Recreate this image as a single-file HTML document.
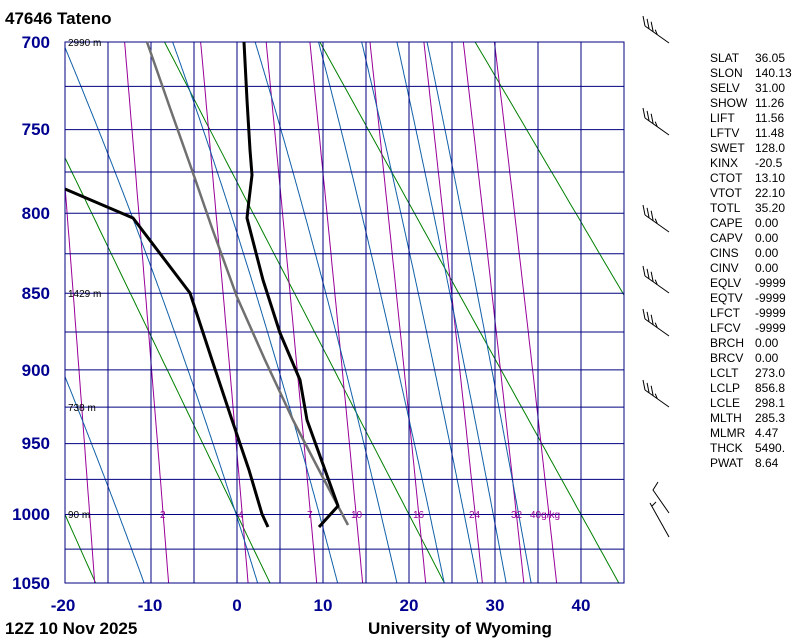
<!DOCTYPE html>
<html><head><meta charset="utf-8"><style>
body{margin:0;background:#fff;}
svg{display:block;font-family:"Liberation Sans",sans-serif;}
</style></head><body>
<svg id="s" width="800" height="640" viewBox="0 0 800 640" xmlns="http://www.w3.org/2000/svg">
<defs><clipPath id="c"><rect x="65" y="42" width="559" height="541"/></clipPath></defs>
<g id="bg" clip-path="url(#c)"></g>
<g id="grid" stroke="#000080" stroke-width="1"></g>
<g font-size="10" fill="#000">
<text x="68" y="46">2990 m</text>
<text x="68" y="297">1429 m</text>
<text x="68" y="411">738 m</text>
<text x="68" y="518">90 m</text>
</g>
<g font-size="10" fill="#990099">
<text x="160" y="518">2</text>
<text x="238" y="518">4</text>
<text x="307" y="518">7</text>
<text x="351" y="518">10</text>
<text x="413" y="518">16</text>
<text x="469" y="518">24</text>
<text x="511" y="518">32</text>
<text x="530" y="518">40g/kg</text>
</g>
<g id="snd" fill="none" stroke-linejoin="round">
<polyline stroke="#707070" stroke-width="2.5" points="147,42 170,108 193,173 212,228 237,297 265,360 293,420 320,472 348,525"/>
<polyline stroke="#000" stroke-width="3" points="244,42 247,100 250,150 252,175 249,200 247,218 263,280 280,333 300,380 307,420 338,506 319,527"/>
<polyline stroke="#000" stroke-width="3" points="65,189 133,218 190,293 212,360 232,420 249,470 262,514 268,527"/>
</g>
<g id="barbs" stroke="#000" stroke-width="1" fill="none"></g>
<g font-size="17" font-weight="bold" fill="#000090" text-anchor="end">
<text x="50" y="48">700</text>
<text x="50" y="135">750</text>
<text x="50" y="219">800</text>
<text x="50" y="299">850</text>
<text x="50" y="376">900</text>
<text x="50" y="449">950</text>
<text x="50" y="520">1000</text>
<text x="50" y="589">1050</text>
</g>
<g font-size="17" font-weight="bold" fill="#000090" text-anchor="middle">
<text x="63" y="611">-20</text>
<text x="150" y="611">-10</text>
<text x="237" y="611">0</text>
<text x="323" y="611">10</text>
<text x="409" y="611">20</text>
<text x="495" y="611">30</text>
<text x="581" y="611">40</text>
</g>
<g font-size="17" font-weight="bold" fill="#000">
<text x="5" y="24">47646  Tateno</text>
<text x="5" y="634">12Z 10 Nov 2025</text>
<text x="368" y="634">University of Wyoming</text>
</g>
<g font-size="12" fill="#000">
<text x="710" y="62">SLAT</text><text x="755" y="62">36.05</text>
<text x="710" y="77">SLON</text><text x="755" y="77">140.13</text>
<text x="710" y="92">SELV</text><text x="755" y="92">31.00</text>
<text x="710" y="107">SHOW</text><text x="755" y="107">11.26</text>
<text x="710" y="122">LIFT</text><text x="755" y="122">11.56</text>
<text x="710" y="137">LFTV</text><text x="755" y="137">11.48</text>
<text x="710" y="152">SWET</text><text x="755" y="152">128.0</text>
<text x="710" y="167">KINX</text><text x="755" y="167">-20.5</text>
<text x="710" y="182">CTOT</text><text x="755" y="182">13.10</text>
<text x="710" y="197">VTOT</text><text x="755" y="197">22.10</text>
<text x="710" y="212">TOTL</text><text x="755" y="212">35.20</text>
<text x="710" y="227">CAPE</text><text x="755" y="227">0.00</text>
<text x="710" y="242">CAPV</text><text x="755" y="242">0.00</text>
<text x="710" y="257">CINS</text><text x="755" y="257">0.00</text>
<text x="710" y="272">CINV</text><text x="755" y="272">0.00</text>
<text x="710" y="287">EQLV</text><text x="755" y="287">-9999</text>
<text x="710" y="302">EQTV</text><text x="755" y="302">-9999</text>
<text x="710" y="317">LFCT</text><text x="755" y="317">-9999</text>
<text x="710" y="332">LFCV</text><text x="755" y="332">-9999</text>
<text x="710" y="347">BRCH</text><text x="755" y="347">0.00</text>
<text x="710" y="362">BRCV</text><text x="755" y="362">0.00</text>
<text x="710" y="377">LCLT</text><text x="755" y="377">273.0</text>
<text x="710" y="392">LCLP</text><text x="755" y="392">856.8</text>
<text x="710" y="407">LCLE</text><text x="755" y="407">298.1</text>
<text x="710" y="422">MLTH</text><text x="755" y="422">285.3</text>
<text x="710" y="437">MLMR</text><text x="755" y="437">4.47</text>
<text x="710" y="452">THCK</text><text x="755" y="452">5490.</text>
<text x="710" y="467">PWAT</text><text x="755" y="467">8.64</text>
</g>
<script>
(function(){
var NS="http://www.w3.org/2000/svg",k=0.286,a=Math.pow(700,k),b=Math.pow(1050,k);
function Y(p){return 42+(Math.pow(p,k)-a)/(b-a)*541;}
function X(t){return 237+8.6*t;}
function el(par,tag,at){var e=document.createElementNS(NS,tag);for(var q in at)e.setAttribute(q,at[q]);par.appendChild(e);return e;}
var bg=document.getElementById("bg"),gr=document.getElementById("grid");
function path(pts,col){var d="";pts.forEach(function(p,i){d+=(i?"L":"M")+p[0].toFixed(1)+" "+p[1].toFixed(1);});el(bg,"path",{d:d,stroke:col,"stroke-width":1,fill:"none"});}
[-20,0,20,40,60,80].forEach(function(th){var pts=[];for(var p=690;p<=1060;p+=5){pts.push([X((th+273.15)*Math.pow(p/1000,k)-273.15),Y(p)]);}path(pts,"#008000");});
[0.4,1,2,4,7,10,16,24,32,40].forEach(function(w){var pts=[];for(var p=690;p<=1060;p+=5){var e=w*p/(622+w),l=Math.log(e/6.112);pts.push([X(243.5*l/(17.67-l)),Y(p)]);}path(pts,"#990099");});
function es(t){return 6.112*Math.exp(17.67*t/(t+243.5));}
[-10.8,2.4,11.7,18.6,24.1,28,31.3,34.2].forEach(function(t0){var T=t0+273.15,pts=[];for(var p=1050;p>=690;p-=1){pts.push([X(T-273.15),Y(p)]);var e=es(T-273.15),rs=0.622*e/(p-e),Lv=2.5e6;var dT=(287*T+Lv*rs)/(p*(1004+Lv*Lv*rs*0.622/(287*T*T)));T-=dT;}path(pts,"#1060a8");});
for(var p=700;p<=1050;p+=25){var y=Y(p);el(gr,"line",{x1:65,x2:624,y1:y,y2:y});}
for(var t=-20;t<=45;t+=5){var x=X(t);el(gr,"line",{x1:x,x2:x,y1:42,y2:583});}
el(gr,"rect",{x:65,y:42,width:559,height:541,fill:"none"});
var bb=document.getElementById("barbs");
[43,135,232,293,336,407].forEach(function(y0){var x0=669,x1=645,y1=y0-17;el(bb,"line",{x1:x0,y1:y0,x2:x1,y2:y1});
for(var i=0;i<4;i++){var f=i*0.17,px=x1+(x0-x1)*f,py=y1+(y0-y1)*f,L=(i==3?5:10);el(bb,"line",{x1:px,y1:py,x2:px-2,y2:py-L});}});
el(bb,"polyline",{points:"658,482 653,490 669,513"});
el(bb,"line",{x1:650,y1:503,x2:669,y2:537});
el(bb,"line",{x1:652,y1:506,x2:656,y2:502});
})();
</script>
</svg>
</body></html>
